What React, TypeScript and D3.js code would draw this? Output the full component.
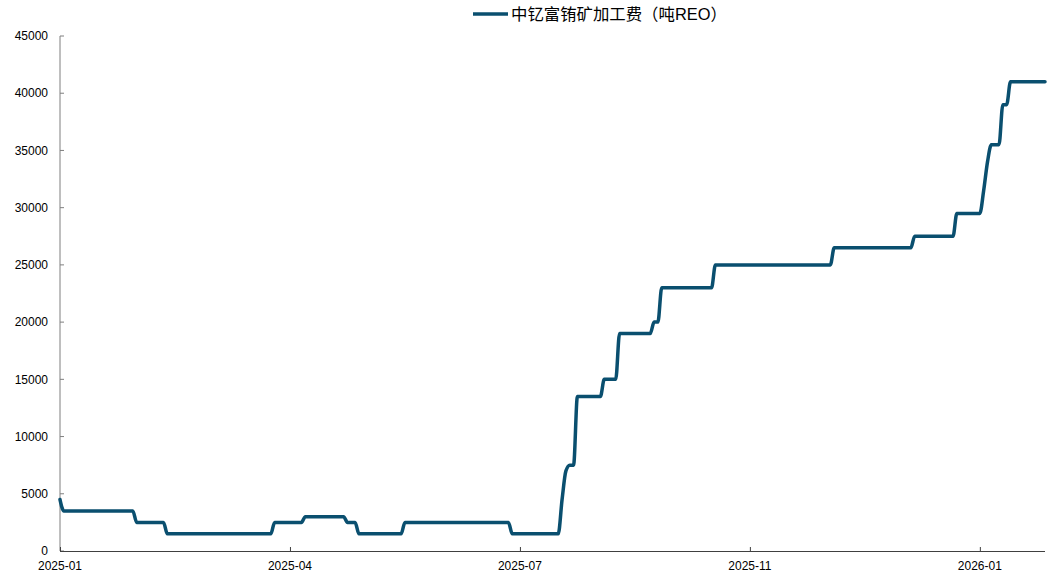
import React, { useEffect, useRef } from 'react';
import * as d3 from 'd3';

// step series as [value, number of points] runs
const valueRuns: [number, number][] = [
  [4500, 1], [3500, 19], [2500, 8], [1500, 28], [2500, 8], [3000, 11],
  [2500, 3], [1500, 12], [2500, 28], [1500, 13], [4500, 1], [7000, 1],
  [7500, 2], [13500, 7], [15000, 4], [19000, 9], [20000, 2], [23000, 14],
  [25000, 31], [26500, 21], [27500, 11], [29500, 7], [31500, 1], [34000, 1],
  [35500, 3], [39000, 2], [41000, 10],
];

const tickIndex = [0, 60, 120, 180, 240];
const tickLabels = ['2025-01', '2025-04', '2025-07', '2025-11', '2026-01'];
const yTicks = [0, 5000, 10000, 15000, 20000, 25000, 30000, 35000, 40000, 45000];
const seriesName = '中钇富铕矿加工费（吨REO）';

const W = 1054;
const H = 579;
const LINE = '#0a4f6f';
const FONT = 'Arial, "Liberation Sans", "Noto Sans CJK SC", sans-serif';

export default function App() {
  const ref = useRef<SVGSVGElement>(null);

  useEffect(() => {
    document.body.style.margin = '0';
    if (!ref.current) return;
    const svg = d3.select(ref.current);
    svg.selectAll('*').remove();

    const values: number[] = [];
    valueRuns.forEach(([v, n]) => { for (let i = 0; i < n; i++) values.push(v); });

    const x = d3.scaleLinear().domain([0, values.length - 1]).range([60, 1045]);
    const y = d3.scaleLinear().domain([0, 45000]).range([551, 36]);

    // y axis
    const yAxis = svg.append('g');
    yAxis.append('line')
      .attr('x1', 60).attr('x2', 60).attr('y1', y(45000)).attr('y2', y(0))
      .attr('stroke', '#7f7f7f').attr('stroke-width', 1);
    yAxis.selectAll('line.tick').data(yTicks).join('line')
      .attr('class', 'tick')
      .attr('x1', 60).attr('x2', 64)
      .attr('y1', d => y(d)).attr('y2', d => y(d))
      .attr('stroke', '#7f7f7f');
    yAxis.selectAll('text').data(yTicks).join('text')
      .attr('x', 48).attr('y', d => y(d)).attr('dy', '0.35em')
      .attr('text-anchor', 'end')
      .attr('font-family', FONT).attr('font-size', 12).attr('fill', '#000')
      .text(d => String(d));

    // x axis
    const xAxis = svg.append('g');
    xAxis.append('line')
      .attr('x1', 60).attr('x2', 1045).attr('y1', 551.5).attr('y2', 551.5)
      .attr('stroke', '#404040').attr('stroke-width', 1);
    xAxis.selectAll('line.tick').data(tickIndex).join('line')
      .attr('class', 'tick')
      .attr('x1', d => x(d) + 0.5).attr('x2', d => x(d) + 0.5)
      .attr('y1', 547).attr('y2', 551)
      .attr('stroke', '#404040');
    xAxis.selectAll('text').data(tickIndex).join('text')
      .attr('x', d => x(d)).attr('y', 570)
      .attr('text-anchor', 'middle')
      .attr('font-family', FONT).attr('font-size', 12).attr('fill', '#000')
      .text((_, i) => tickLabels[i]);

    // series
    const line = d3.line<number>()
      .x((_, i) => x(i))
      .y(d => y(d))
      .curve(d3.curveMonotoneX);
    svg.append('path')
      .datum(values)
      .attr('d', line)
      .attr('fill', 'none')
      .attr('stroke', LINE)
      .attr('stroke-width', 3.5)
      .attr('stroke-linejoin', 'round')
      .attr('stroke-linecap', 'round');

    // legend
    const legend = svg.append('g');
    legend.append('line')
      .attr('x1', 473).attr('x2', 508).attr('y1', 14).attr('y2', 14)
      .attr('stroke', LINE).attr('stroke-width', 3.5);
    legend.append('text')
      .attr('x', 511).attr('y', 14).attr('dy', '0.35em')
      .attr('font-family', FONT).attr('font-size', 16.4).attr('fill', '#000')
      .text(seriesName);
  }, []);

  return <svg ref={ref} width={W} height={H} style={{ display: 'block', background: '#fff' }} />;
}
